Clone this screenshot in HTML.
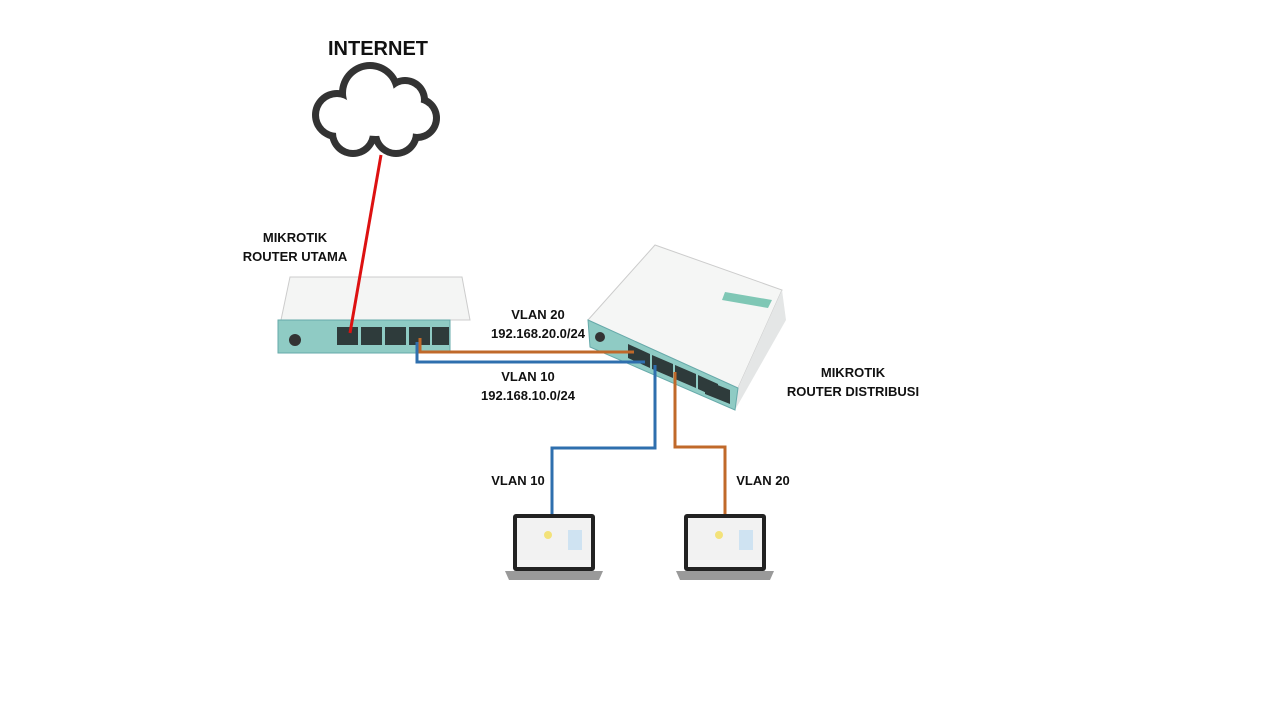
<!DOCTYPE html>
<html><head><meta charset="utf-8"><style>
html,body{margin:0;padding:0;background:#fff;}
svg{display:block;}
text{font-family:"Liberation Sans",sans-serif;font-weight:bold;fill:#111;}
</style></head><body>
<svg width="1280" height="720" viewBox="0 0 1280 720">
<rect width="1280" height="720" fill="#fff"/>
<text x="378" y="55" font-size="20" text-anchor="middle">INTERNET</text>
<!-- cloud -->
<g fill="#333">
<circle cx="337" cy="115" r="25"/><circle cx="370" cy="93" r="31"/><circle cx="405" cy="100" r="23"/>
<circle cx="417" cy="118" r="23"/><circle cx="353" cy="133" r="24"/><circle cx="396" cy="133" r="24"/>
</g>
<g fill="#fff">
<circle cx="337" cy="115" r="18"/><circle cx="370" cy="93" r="24"/><circle cx="405" cy="100" r="16"/>
<circle cx="417" cy="118" r="16"/><circle cx="353" cy="133" r="17"/><circle cx="396" cy="133" r="17"/>
<ellipse cx="376" cy="116" rx="40" ry="20"/>
</g>
<!-- router 1 -->
<polygon points="290,277 462,277 470,320 281,320" fill="#f4f5f4" stroke="#ccc"/>
<rect x="278" y="320" width="172" height="33" fill="#8fcbc4" stroke="#6aa"/>
<circle cx="295" cy="340" r="6" fill="#333"/>
<g fill="#2e3b3b"><rect x="337" y="327" width="21" height="18"/><rect x="361" y="327" width="21" height="18"/><rect x="385" y="327" width="21" height="18"/><rect x="409" y="327" width="21" height="18"/><rect x="432" y="327" width="17" height="18"/></g>
<text x="295" y="242" font-size="13" text-anchor="middle">MIKROTIK</text>
<text x="295" y="261" font-size="13" text-anchor="middle">ROUTER UTAMA</text>
<!-- router 2 -->
<polygon points="588,320 655,245 782,290 738,388" fill="#f5f6f5" stroke="#ccc"/>
<polygon points="738,388 782,290 786,320 735,410" fill="#e4e6e6"/>
<polygon points="588,320 738,388 735,410 590,347" fill="#8fcbc4" stroke="#6aa"/>
<polygon points="725,292 772,300 768,308 722,300" fill="#7fc7b5"/>
<g fill="#2e3b3b">
<polygon points="628,344 650,354 650,368 628,358"/><polygon points="652,355 673,364 673,378 652,369"/>
<polygon points="675,365 696,374 696,388 675,379"/><polygon points="698,375 718,384 718,398 698,389"/>
<polygon points="705,380 730,390 730,404 705,394"/>
</g>
<circle cx="600" cy="337" r="5" fill="#333"/>
<!-- lines -->
<line x1="381" y1="155" x2="350" y2="333" stroke="#d11" stroke-width="3"/>
<polyline points="420,338 420,352 634,352" fill="none" stroke="#c0692a" stroke-width="3"/>
<polyline points="417,342 417,362 645,362" fill="none" stroke="#2f6fae" stroke-width="3"/>
<polyline points="655,365 655,448 552,448 552,515" fill="none" stroke="#2f6fae" stroke-width="3"/>
<polyline points="675,372 675,447 725,447 725,515" fill="none" stroke="#c0692a" stroke-width="3"/>
<text x="538" y="319" font-size="13" text-anchor="middle">VLAN 20</text>
<text x="538" y="338" font-size="13" text-anchor="middle">192.168.20.0/24</text>
<text x="528" y="381" font-size="13" text-anchor="middle">VLAN 10</text>
<text x="528" y="400" font-size="13" text-anchor="middle">192.168.10.0/24</text>
<text x="853" y="377" font-size="13" text-anchor="middle">MIKROTIK</text>
<text x="853" y="396" font-size="13" text-anchor="middle">ROUTER DISTRIBUSI</text>
<text x="518" y="485" font-size="13" text-anchor="middle">VLAN 10</text>
<text x="763" y="485" font-size="13" text-anchor="middle">VLAN 20</text>
<!-- laptops -->
<g id="lp">
<rect x="513" y="514" width="82" height="57" rx="3" fill="#222"/>
<rect x="517" y="518" width="74" height="49" fill="#f2f2f2"/>
<rect x="568" y="530" width="14" height="20" fill="#cfe3f2"/>
<circle cx="548" cy="535" r="4" fill="#f3e27a"/>
<polygon points="505,571 603,571 599,580 509,580" fill="#9a9a9a"/>
</g>
<use href="#lp" x="171"/>
</svg>
</body></html>
